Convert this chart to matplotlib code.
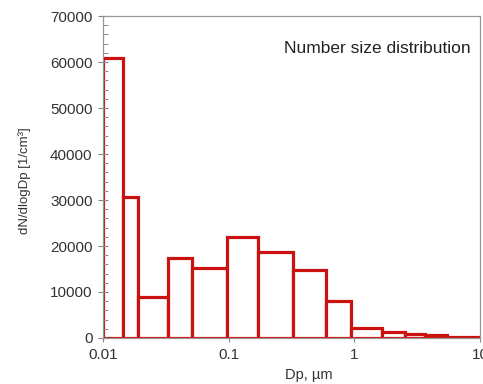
import matplotlib.pyplot as plt
from matplotlib.ticker import MultipleLocator, FixedLocator

plt.rcParams['font.family'] = ['Liberation Sans', 'DejaVu Sans']

# bin edges (um) and dN/dlogDp values
bin_edges = [0.01, 0.0145, 0.0191, 0.0331, 0.0507, 0.0975, 0.172, 0.323,
             0.594, 0.934, 1.65, 2.53, 3.65, 5.42, 10]
dn_dlogdp = [60800, 30700, 9000, 17300, 15150, 22000, 18800, 14700,
             8000, 2170, 1230, 870, 580, 220]

lefts = bin_edges[:-1]
widths = [b - a for a, b in zip(bin_edges[:-1], bin_edges[1:])]

fig = plt.figure(figsize=(4.83, 3.84), dpi=100)
ax = fig.add_axes([0.2133, 0.1198, 0.7805, 0.8385])

ax.bar(lefts, dn_dlogdp, width=widths, align='edge', facecolor='white',
       edgecolor='#cc1111', linewidth=2.3)

ax.set_xscale('log')
ax.set_xlim(0.01, 10)
ax.set_ylim(0, 70000)
ax.xaxis.set_major_locator(FixedLocator([0.01, 0.1, 1, 10]))
ax.xaxis.set_minor_locator(FixedLocator([]))
ax.set_xticklabels(['0.01', '0.1', '1', '10'])
ax.yaxis.set_major_locator(MultipleLocator(10000))
ax.yaxis.set_minor_locator(MultipleLocator(2000))

ax.tick_params(axis='y', which='major', direction='inout', length=7, width=0.8,
               color='#888888', labelsize=11, labelcolor='#333333', pad=4)
ax.tick_params(axis='y', which='minor', direction='in', length=3.5, width=0.7,
               color='#888888')
ax.tick_params(axis='x', which='major', direction='out', length=3, width=0.8,
               color='#888888', labelsize=11, labelcolor='#333333', pad=4)

for s in ax.spines.values():
    s.set_color('#999999')
    s.set_linewidth(0.9)

ax.set_xlabel('Dp, µm', fontsize=10.5, color='#333333')
ax.xaxis.set_label_coords(0.546, -0.092)
ax.set_ylabel('dN/dlogDp [1/cm³]', fontsize=9.5, color='#333333')
ax.yaxis.set_label_coords(-0.19, 0.49)

ax.text(0.975, 0.9, 'Number size distribution', transform=ax.transAxes,
        ha='right', va='center', fontsize=12.5, color='#222222')

fig.savefig('out.png', dpi=100)
